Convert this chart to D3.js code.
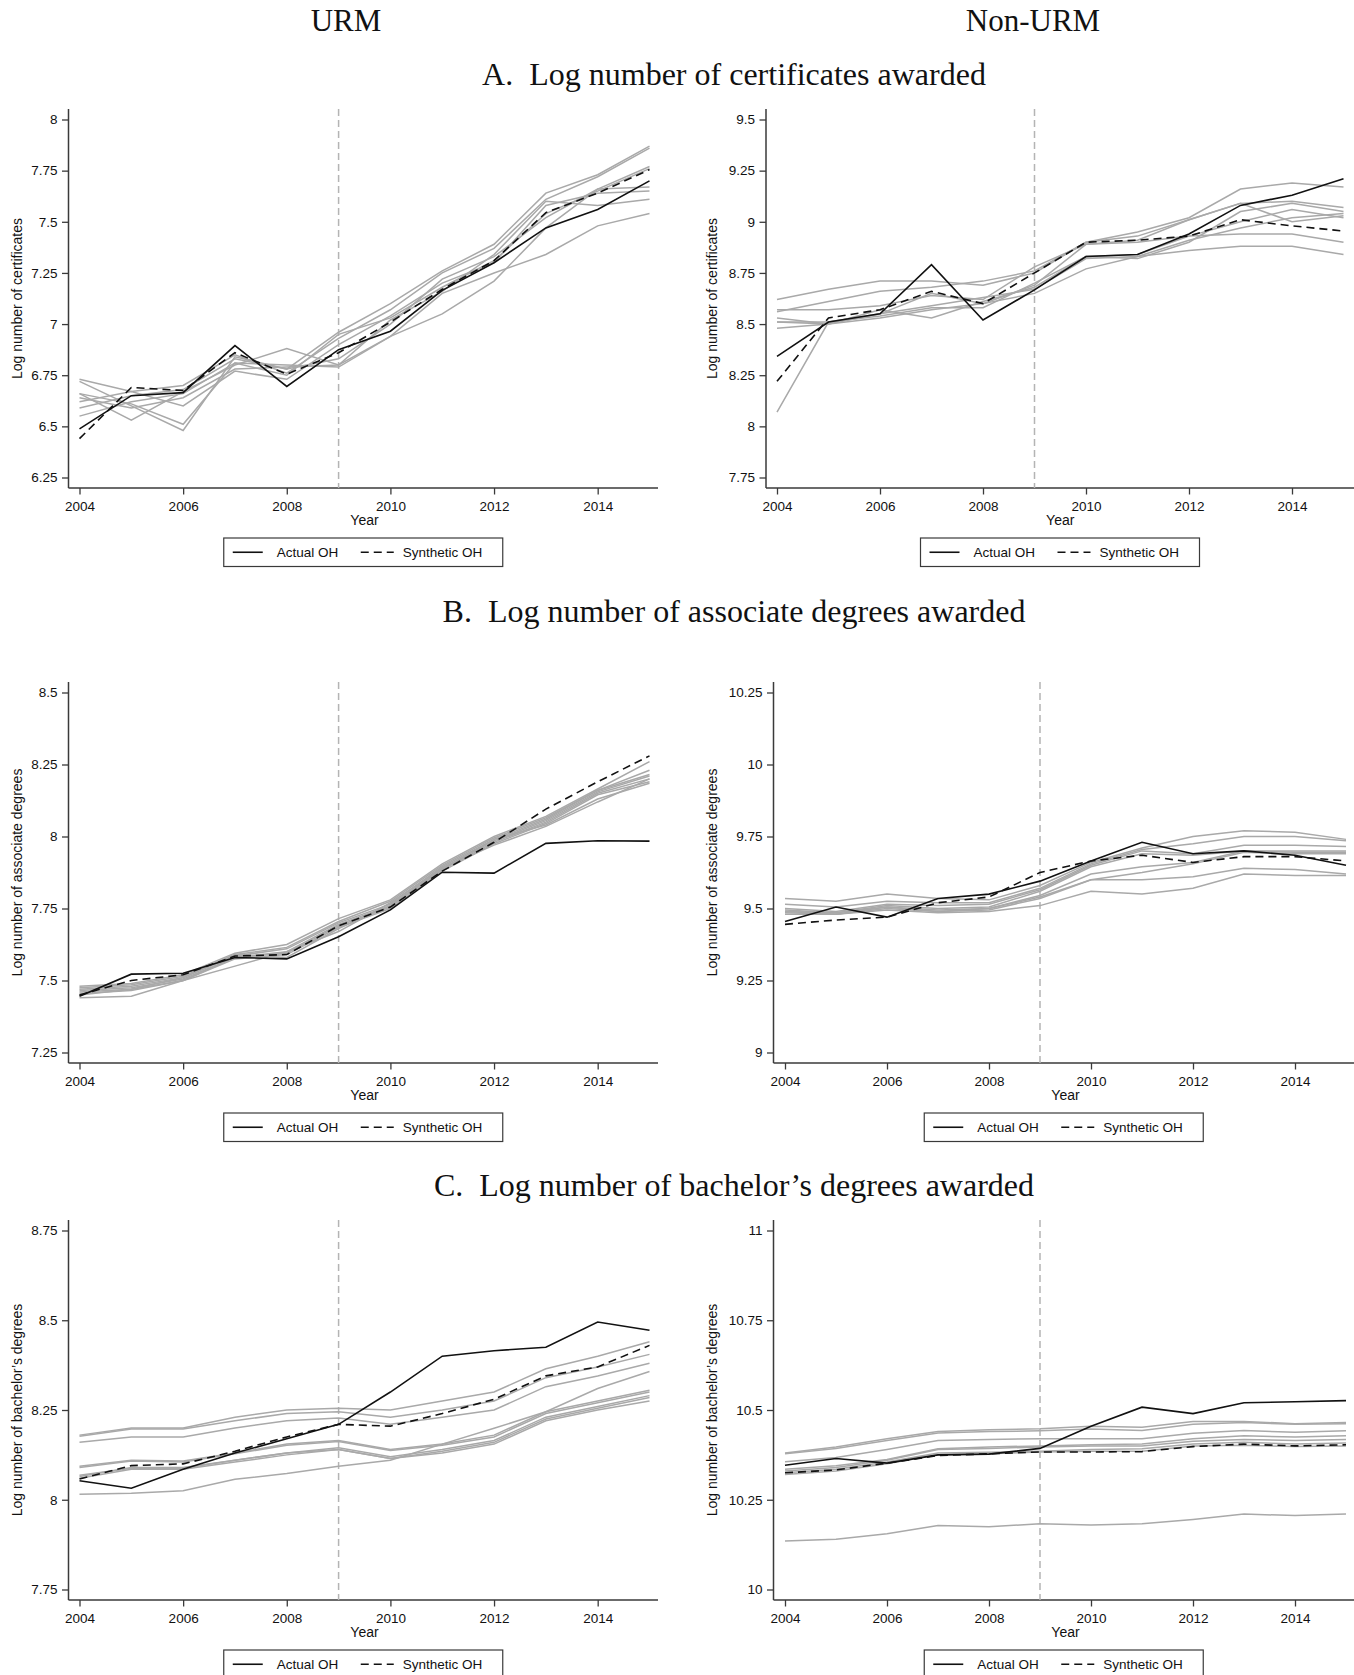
<!DOCTYPE html>
<html>
<head>
<meta charset="utf-8">
<script src="https://cdn.jsdelivr.net/npm/d3@7"></script>
<style>
body { margin: 0; background: #fff; }
svg text { font-family: "Liberation Sans", Arial, sans-serif; fill: #111; }
.head { font-family: "Liberation Serif", "Times New Roman", serif; font-size: 31px; }
.rowhead { font-family: "Liberation Serif", "Times New Roman", serif; font-size: 32px; }
</style>
</head>
<body>
<svg id="chart" width="1354" height="1675"></svg>
<script>
// years and ticks
const years = [2004, 2005, 2006, 2007, 2008, 2009, 2010, 2011, 2012, 2013, 2014, 2015];
const xTicks = [2004, 2006, 2008, 2010, 2012, 2014];
const treatYear = 2009;

// A. certificates, URM
const certUrmTicks = [6.25, 6.5, 6.75, 7, 7.25, 7.5, 7.75, 8];
const certUrmActual = [6.488, 6.65, 6.665, 6.895, 6.695, 6.875, 6.965, 7.165, 7.30, 7.47, 7.56, 7.70];
const certUrmSynth = [6.44, 6.69, 6.675, 6.86, 6.755, 6.86, 7.01, 7.17, 7.31, 7.545, 7.64, 7.755];
const certUrmDonors = [
  [6.72, 6.60, 6.48, 6.84, 6.78, 6.96, 7.10, 7.26, 7.39, 7.64, 7.73, 7.87],
  [6.73, 6.67, 6.70, 6.85, 6.76, 6.93, 7.07, 7.25, 7.37, 7.61, 7.72, 7.86],
  [6.66, 6.53, 6.67, 6.80, 6.88, 6.80, 6.94, 7.05, 7.21, 7.47, 7.66, 7.77],
  [6.66, 6.61, 6.51, 6.81, 6.80, 6.79, 6.94, 7.15, 7.25, 7.34, 7.48, 7.54],
  [6.64, 6.59, 6.64, 6.78, 6.79, 6.80, 7.02, 7.16, 7.34, 7.60, 7.58, 7.61],
  [6.62, 6.67, 6.60, 6.77, 6.73, 6.90, 7.04, 7.20, 7.30, 7.58, 7.64, 7.65],
  [6.59, 6.65, 6.68, 6.83, 6.78, 6.83, 7.00, 7.22, 7.33, 7.52, 7.66, 7.67],
  [6.55, 6.62, 6.66, 6.81, 6.75, 6.95, 7.03, 7.18, 7.31, 7.54, 7.65, 7.76]
];

// A. certificates, Non-URM
const certNonTicks = [7.75, 8, 8.25, 8.5, 8.75, 9, 9.25, 9.5];
const certNonActual = [8.342, 8.51, 8.55, 8.79, 8.52, 8.667, 8.83, 8.84, 8.94, 9.08, 9.13, 9.21];
const certNonSynth = [8.22, 8.53, 8.57, 8.66, 8.60, 8.75, 8.90, 8.91, 8.93, 9.01, 8.98, 8.955];
const certNonDonors = [
  [8.62, 8.67, 8.71, 8.71, 8.69, 8.75, 8.90, 8.95, 9.02, 9.16, 9.19, 9.17],
  [8.56, 8.61, 8.66, 8.68, 8.71, 8.76, 8.90, 8.93, 9.01, 9.09, 9.10, 9.07],
  [8.57, 8.57, 8.59, 8.64, 8.62, 8.78, 8.89, 8.91, 9.01, 9.09, 9.00, 9.03],
  [8.53, 8.50, 8.57, 8.53, 8.61, 8.68, 8.83, 8.82, 8.90, 9.05, 9.09, 9.05],
  [8.51, 8.50, 8.55, 8.59, 8.63, 8.67, 8.82, 8.83, 8.91, 8.97, 9.02, 9.04],
  [8.51, 8.51, 8.54, 8.58, 8.58, 8.70, 8.83, 8.84, 8.93, 8.94, 8.94, 8.90],
  [8.48, 8.50, 8.53, 8.57, 8.60, 8.65, 8.77, 8.83, 8.86, 8.88, 8.88, 8.84],
  [8.07, 8.51, 8.55, 8.65, 8.60, 8.69, 8.89, 8.90, 8.93, 9.00, 9.06, 9.02]
];

// B. associate degrees, URM
const assocUrmTicks = [7.25, 7.5, 7.75, 8, 8.25, 8.5];
const assocUrmActual = [7.445, 7.522, 7.525, 7.58, 7.575, 7.652, 7.745, 7.876, 7.873, 7.976, 7.985, 7.984];
const assocUrmSynth = [7.45, 7.50, 7.52, 7.585, 7.59, 7.69, 7.755, 7.88, 7.98, 8.095, 8.19, 8.28];
const assocUrmDonors = [
  [7.48, 7.49, 7.52, 7.595, 7.625, 7.715, 7.78, 7.905, 8.00, 8.07, 8.165, 8.26],
  [7.475, 7.485, 7.515, 7.59, 7.615, 7.705, 7.775, 7.90, 7.995, 8.065, 8.16, 8.23],
  [7.47, 7.48, 7.51, 7.585, 7.61, 7.70, 7.765, 7.895, 7.99, 8.06, 8.16, 8.215],
  [7.465, 7.475, 7.505, 7.58, 7.60, 7.695, 7.76, 7.89, 7.985, 8.055, 8.155, 8.21],
  [7.46, 7.47, 7.50, 7.58, 7.595, 7.69, 7.755, 7.885, 7.98, 8.05, 8.15, 8.20],
  [7.455, 7.465, 7.50, 7.575, 7.59, 7.685, 7.75, 7.88, 7.975, 8.045, 8.145, 8.19],
  [7.44, 7.445, 7.50, 7.55, 7.60, 7.67, 7.77, 7.89, 7.97, 8.035, 8.12, 8.20],
  [7.45, 7.47, 7.51, 7.59, 7.58, 7.68, 7.76, 7.885, 7.99, 8.04, 8.13, 8.185]
];

// B. associate degrees, Non-URM
const assocNonTicks = [9, 9.25, 9.5, 9.75, 10, 10.25];
const assocNonActual = [9.455, 9.505, 9.47, 9.535, 9.55, 9.595, 9.665, 9.73, 9.69, 9.70, 9.685, 9.65];
const assocNonSynth = [9.445, 9.46, 9.47, 9.52, 9.54, 9.625, 9.665, 9.685, 9.66, 9.68, 9.68, 9.665];
const assocNonDonors = [
  [9.535, 9.525, 9.55, 9.535, 9.53, 9.58, 9.66, 9.71, 9.75, 9.77, 9.765, 9.74],
  [9.515, 9.505, 9.525, 9.52, 9.52, 9.57, 9.655, 9.705, 9.725, 9.75, 9.75, 9.735],
  [9.50, 9.49, 9.515, 9.51, 9.515, 9.565, 9.65, 9.70, 9.69, 9.72, 9.72, 9.715],
  [9.495, 9.485, 9.51, 9.50, 9.505, 9.56, 9.645, 9.69, 9.685, 9.70, 9.70, 9.70],
  [9.49, 9.48, 9.505, 9.495, 9.50, 9.545, 9.62, 9.645, 9.66, 9.70, 9.695, 9.695],
  [9.485, 9.48, 9.50, 9.49, 9.50, 9.54, 9.60, 9.625, 9.655, 9.695, 9.69, 9.69],
  [9.49, 9.485, 9.505, 9.49, 9.495, 9.535, 9.60, 9.60, 9.61, 9.64, 9.635, 9.62],
  [9.48, 9.48, 9.495, 9.485, 9.49, 9.51, 9.56, 9.55, 9.57, 9.62, 9.615, 9.615]
];

// C. bachelor's degrees, URM
const bachUrmTicks = [7.75, 8, 8.25, 8.5, 8.75];
const bachUrmActual = [8.053, 8.032, 8.085, 8.13, 8.17, 8.21, 8.30, 8.40, 8.415, 8.425, 8.495, 8.472];
const bachUrmSynth = [8.058, 8.095, 8.10, 8.135, 8.175, 8.21, 8.205, 8.24, 8.28, 8.345, 8.37, 8.43];
const bachUrmDonors = [
  [8.18, 8.20, 8.20, 8.23, 8.25, 8.255, 8.25, 8.275, 8.30, 8.365, 8.40, 8.44],
  [8.177, 8.197, 8.197, 8.22, 8.24, 8.245, 8.23, 8.25, 8.275, 8.34, 8.37, 8.405],
  [8.16, 8.175, 8.175, 8.20, 8.22, 8.228, 8.21, 8.23, 8.25, 8.315, 8.345, 8.38],
  [8.093, 8.11, 8.108, 8.13, 8.155, 8.165, 8.14, 8.155, 8.18, 8.245, 8.275, 8.305],
  [8.09, 8.108, 8.105, 8.128, 8.152, 8.162, 8.137, 8.152, 8.175, 8.24, 8.27, 8.30],
  [8.065, 8.09, 8.09, 8.11, 8.13, 8.145, 8.12, 8.14, 8.165, 8.23, 8.26, 8.29],
  [8.06, 8.085, 8.085, 8.105, 8.125, 8.14, 8.115, 8.13, 8.155, 8.22, 8.25, 8.275],
  [8.068, 8.088, 8.088, 8.11, 8.13, 8.14, 8.115, 8.135, 8.16, 8.225, 8.255, 8.285],
  [8.015, 8.018, 8.025, 8.057, 8.073, 8.093, 8.11, 8.155, 8.199, 8.245, 8.31, 8.357]
];

// C. bachelor's degrees, Non-URM
const bachNonTicks = [10, 10.25, 10.5, 10.75, 11];
const bachNonActual = [10.346, 10.365, 10.352, 10.375, 10.377, 10.393, 10.455, 10.508, 10.49, 10.52, 10.523, 10.526];
const bachNonSynth = [10.325, 10.333, 10.352, 10.373, 10.378, 10.383, 10.383, 10.384, 10.398, 10.405, 10.40, 10.403];
const bachNonDonors = [
  [10.38, 10.397, 10.42, 10.44, 10.445, 10.448, 10.455, 10.452, 10.468, 10.468, 10.462, 10.465],
  [10.378, 10.393, 10.415, 10.436, 10.44, 10.442, 10.447, 10.443, 10.46, 10.465, 10.46, 10.462],
  [10.356, 10.368, 10.39, 10.415, 10.418, 10.42, 10.42, 10.42, 10.435, 10.443, 10.438, 10.442],
  [10.335, 10.345, 10.362, 10.392, 10.397, 10.40, 10.403, 10.405, 10.42, 10.428, 10.425, 10.428],
  [10.33, 10.34, 10.36, 10.39, 10.393, 10.397, 10.40, 10.40, 10.413, 10.418, 10.415, 10.418],
  [10.325, 10.335, 10.355, 10.38, 10.382, 10.385, 10.39, 10.392, 10.405, 10.41, 10.405, 10.408],
  [10.32, 10.33, 10.35, 10.375, 10.378, 10.383, 10.385, 10.385, 10.40, 10.402, 10.398, 10.40],
  [10.135, 10.14, 10.155, 10.178, 10.175, 10.183, 10.18, 10.183, 10.195, 10.21, 10.206, 10.21]
];

const colTitles = ["URM", "Non-URM"];
const rowTitles = ["A.\u00a0\u00a0Log number of certificates awarded",
                   "B.\u00a0\u00a0Log number of associate degrees awarded",
                   "C.\u00a0\u00a0Log number of bachelor\u2019s degrees awarded"];
const yTitles = ["Log number of certificates", "Log number of associate degrees", "Log number of bachelor\u2019s degrees"];
const legendLabels = ["Actual OH", "Synthetic OH"];

// layout
const rows = [{top: 109, bottom: 488, titleY: 85}, {top: 682, bottom: 1063, titleY: 622}, {top: 1220, bottom: 1600, titleY: 1196}];
const cols = {
  L:  {axis: 68.5, x0: 79.5, x1: 649.5, right: 658, ytitle: 17},
  RA: {axis: 766, x0: 777, x1: 1343.5, right: 1354, ytitle: 712.5},
  RB: {axis: 773.5, x0: 785, x1: 1346, right: 1354, ytitle: 712.5}
};

const panels = [
  {row: 0, col: "L",  ticks: certUrmTicks,  actual: certUrmActual,  synth: certUrmSynth,  donors: certUrmDonors},
  {row: 0, col: "RA", ticks: certNonTicks,  actual: certNonActual,  synth: certNonSynth,  donors: certNonDonors},
  {row: 1, col: "L",  ticks: assocUrmTicks, actual: assocUrmActual, synth: assocUrmSynth, donors: assocUrmDonors},
  {row: 1, col: "RB", ticks: assocNonTicks, actual: assocNonActual, synth: assocNonSynth, donors: assocNonDonors},
  {row: 2, col: "L",  ticks: bachUrmTicks,  actual: bachUrmActual,  synth: bachUrmSynth,  donors: bachUrmDonors},
  {row: 2, col: "RB", ticks: bachNonTicks,  actual: bachNonActual,  synth: bachNonSynth,  donors: bachNonDonors}
];

const svg = d3.select("#chart");
const axisColor = "#3a3a3a";
const grey = "#a9a9a9";

svg.append("text").attr("class", "head").attr("x", 346).attr("y", 31)
  .attr("text-anchor", "middle").text(colTitles[0]);
svg.append("text").attr("class", "head").attr("x", 1033).attr("y", 31)
  .attr("text-anchor", "middle").text(colTitles[1]);
rows.forEach((r, i) => {
  svg.append("text").attr("class", "rowhead").attr("x", 734).attr("y", r.titleY)
    .attr("text-anchor", "middle").text(rowTitles[i]);
});

function drawPanel(p) {
  const r = rows[p.row], c = cols[p.col];
  const g = svg.append("g");
  const x = d3.scaleLinear().domain([years[0], years[years.length - 1]]).range([c.x0, c.x1]);
  const y = d3.scaleLinear().domain([p.ticks[0], p.ticks[p.ticks.length - 1]])
    .range([r.bottom - 10.5, r.top + 10.5]);

  // y axis
  const ya = g.append("g").attr("transform", `translate(${c.axis},0)`)
    .call(d3.axisLeft(y).tickValues(p.ticks).tickSize(6.5).tickPadding(4.5).tickFormat(d => String(d)));
  ya.select(".domain").remove();
  ya.selectAll(".tick line").attr("stroke", axisColor).attr("stroke-width", 1.3);
  ya.selectAll(".tick text").attr("font-size", 13.5).attr("fill", "#111")
    .attr("font-family", "'Liberation Sans', Arial, sans-serif");
  g.append("line").attr("x1", c.axis).attr("x2", c.axis).attr("y1", r.top).attr("y2", r.bottom)
    .attr("stroke", axisColor).attr("stroke-width", 1.5);

  // x axis
  const xa = g.append("g").attr("transform", `translate(0,${r.bottom})`)
    .call(d3.axisBottom(x).tickValues(xTicks).tickSize(6.5).tickPadding(6.5).tickFormat(d3.format("d")));
  xa.select(".domain").remove();
  xa.selectAll(".tick line").attr("stroke", axisColor).attr("stroke-width", 1.3);
  xa.selectAll(".tick text").attr("font-size", 13.5).attr("fill", "#111")
    .attr("font-family", "'Liberation Sans', Arial, sans-serif");
  g.append("line").attr("x1", c.axis).attr("x2", c.right).attr("y1", r.bottom).attr("y2", r.bottom)
    .attr("stroke", axisColor).attr("stroke-width", 1.5);

  g.append("text").attr("x", (c.x0 + c.x1) / 2).attr("y", r.bottom + 37)
    .attr("text-anchor", "middle").attr("font-size", 14).text("Year");

  g.append("text").attr("transform", `translate(${c.ytitle},${(r.top + r.bottom) / 2}) rotate(-90)`)
    .attr("text-anchor", "middle").attr("dy", "0.35em").attr("font-size", 14).text(yTitles[p.row]);

  // treatment year
  g.append("line").attr("x1", x(treatYear)).attr("x2", x(treatYear))
    .attr("y1", r.top).attr("y2", r.bottom)
    .attr("stroke", "#b4b4b4").attr("stroke-width", 1.5).attr("stroke-dasharray", "7,4");

  const line = d3.line().x((d, i) => x(years[i])).y(d => y(d));

  g.selectAll(".donor").data(p.donors).enter().append("path")
    .attr("d", line).attr("fill", "none").attr("stroke", grey).attr("stroke-width", 1.5);

  g.append("path").datum(p.actual).attr("d", line).attr("fill", "none")
    .attr("stroke", "#111").attr("stroke-width", 1.6);
  g.append("path").datum(p.synth).attr("d", line).attr("fill", "none")
    .attr("stroke", "#111").attr("stroke-width", 1.6).attr("stroke-dasharray", "8,5");

  // legend
  const lw = 279, lh = 28.5;
  const lx = (c.axis + c.right) / 2 - lw / 2, ly = r.bottom + 50;
  const lg = g.append("g").attr("transform", `translate(${lx},${ly})`);
  lg.append("rect").attr("width", lw).attr("height", lh).attr("fill", "#fff")
    .attr("stroke", axisColor).attr("stroke-width", 1.2);
  lg.append("line").attr("x1", 9).attr("x2", 39).attr("y1", lh / 2).attr("y2", lh / 2)
    .attr("stroke", "#111").attr("stroke-width", 1.6);
  lg.append("text").attr("x", 53).attr("y", lh / 2).attr("dy", "0.35em").attr("font-size", 13.5).text(legendLabels[0]);
  lg.append("line").attr("x1", 137).attr("x2", 170).attr("y1", lh / 2).attr("y2", lh / 2)
    .attr("stroke", "#111").attr("stroke-width", 1.6).attr("stroke-dasharray", "8,5");
  lg.append("text").attr("x", 179).attr("y", lh / 2).attr("dy", "0.35em").attr("font-size", 13.5).text(legendLabels[1]);
}

panels.forEach(drawPanel);
</script>
</body>
</html>
